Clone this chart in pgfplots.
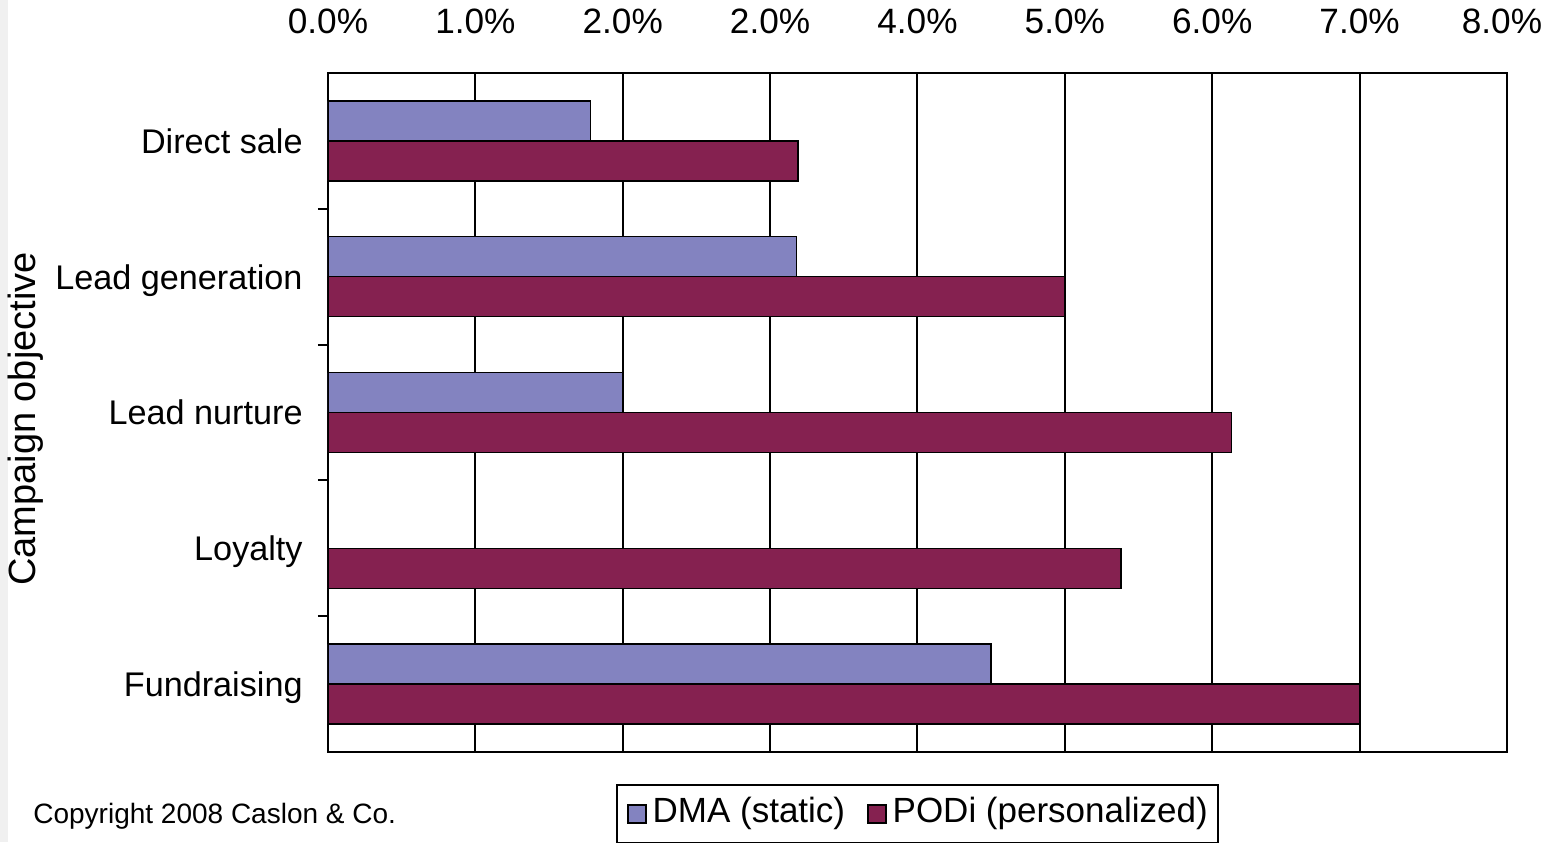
\documentclass[border=0pt]{standalone}
\usepackage{fontspec}
\setmainfont{Liberation Sans}
\usepackage{pgfplots}
\pgfplotsset{compat=1.18}
\definecolor{dma}{RGB}{131,131,192}
\definecolor{podi}{RGB}{133,33,80}
\newcommand{\bigf}{\fontsize{17.5}{21}\selectfont}
\begin{document}
\begin{tikzpicture}
\path[use as bounding box] (-164pt,-45pt) rectangle (608pt,376pt);
\fill[black!6] (-164pt,-45pt) rectangle (-160pt,376pt);
\begin{axis}[
  at={(0pt,0pt)}, anchor=south west,
  scale only axis, width=589.5pt, height=339.5pt,
  xbar, bar width=20pt,
  xmin=0, xmax=8, ymin=-0.5, ymax=4.5,
  xtick={0,...,8},
  xticklabels={0.0\%,1.0\%,2.0\%,2.0\%,4.0\%,5.0\%,6.0\%,7.0\%,8.0\%\kern5pt},
  xticklabel pos=upper,
  xticklabel style={anchor=base, yshift=20pt, inner sep=0pt, font=\fontsize{17.6}{21}\selectfont},
  ytick={0,1,2,3,4},
  yticklabels={Fundraising,Loyalty,Lead nurture,Lead generation,Direct sale},
  yticklabel style={anchor=base east, inner sep=0pt, xshift=-12.5pt, yshift=-6.2pt, font=\fontsize{17.1}{21}\selectfont},
  minor ytick={0.5,1.5,2.5,3.5},
  major tick length=0pt, minor tick length=5pt, tick align=outside,
  ytick pos=left, xtick pos=upper,
  every minor tick/.style={black, line width=1pt},
  xmajorgrids, major grid style={black, line width=1pt},
  axis line style={line width=1pt},
  ylabel={Campaign objective},
  ylabel style={at={(axis description cs:-0.2485,0.4904)}, anchor=base, inner sep=0pt, font=\fontsize{19}{23}\selectfont},
  legend columns=2,
  legend style={at={(axis description cs:0.5,-0.047)}, anchor=north, draw=black, line width=1pt,
    font=\bigf, inner xsep=5pt, inner ysep=6.3pt,
    nodes={inner sep=0pt, text height=12.6pt, text depth=3.9pt},
    /tikz/every even column/.append style={column sep=11pt},
    /tikz/every odd column/.append style={column sep=3pt}},
  legend cell align=left,
  legend image code/.code={\draw[#1, line width=0.75pt] (0pt,-4.5pt) rectangle (9pt,4.5pt);},
]
\addplot[fill=dma, draw=black, line width=0.75pt, bar shift=10pt]
  coordinates {(1.78,4) (3.18,3) (2.0,2) (4.5,0)};
\addplot[fill=podi, draw=black, line width=0.75pt, bar shift=-10pt]
  coordinates {(3.19,4) (5.0,3) (6.13,2) (5.38,1) (7.0,0)};
\legend{DMA (static), PODi (personalized)}
\end{axis}
\node[anchor=base west, inner sep=0pt, font=\fontsize{14}{17}\selectfont] at (-147.5pt,-35.5pt) {Copyright 2008 Caslon \& Co.};
\end{tikzpicture}
\end{document}
